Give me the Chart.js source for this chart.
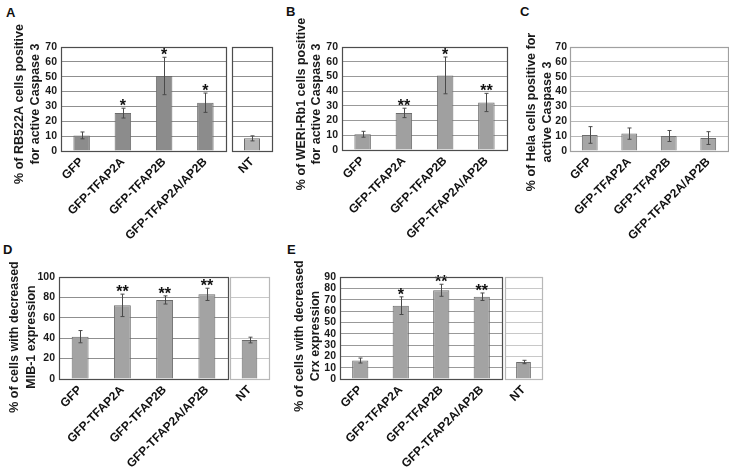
<!DOCTYPE html>
<html><head><meta charset="utf-8">
<script src="https://cdn.jsdelivr.net/npm/chart.js@4.4.1/dist/chart.umd.min.js"></script>
<style>
html,body{margin:0;padding:0;background:#fff;}
#wrap{position:relative;width:729px;height:473px;overflow:hidden;background:#fff;}
#wrap canvas{position:absolute;}
.lbl{position:absolute;font:bold 13px "Liberation Sans",Arial,sans-serif;line-height:13px;color:#111;}
</style></head><body>
<div id="wrap">
<div class="lbl" style="left:6px;top:6px">A</div>
<div class="lbl" style="left:286px;top:5px">B</div>
<div class="lbl" style="left:520px;top:5px">C</div>
<div class="lbl" style="left:3px;top:243px">D</div>
<div class="lbl" style="left:287px;top:243px">E</div>
</div>
<script>
// ---- data ----
const categories = ['GFP', 'GFP-TFAP2A', 'GFP-TFAP2B', 'GFP-TFAP2A/AP2B'];
const ntCategory = ['NT'];

const aValues = [10.5, 25.5, 50.5, 32.5];
const aErrors = [2.3, 3.3, 12.6, 6.5];
const aStars = ['', '*', '*', '*'];
const aNTValues = [8.5];
const aNTErrors = [1.7];

const bValues = [10.7, 25.2, 50.7, 32.3];
const bErrors = [2.0, 3.2, 12.5, 6.2];
const bStars = ['', '**', '*', '**'];

const cValues = [10.8, 11.7, 10.1, 8.7];
const cErrors = [5.6, 3.8, 3.7, 4.3];

const dValues = [41.5, 72.2, 77.5, 83];
const dErrors = [6, 11, 4, 6];
const dStars = ['', '**', '**', '**'];
const dNTValues = [38.2];
const dNTErrors = [2.8];

const eValues = [16.3, 64.7, 78.3, 72.6];
const eErrors = [2.2, 7.8, 5.3, 3.3];
const eStars = ['', '*', '**', '**'];
const eNTValues = [15];
const eNTErrors = [1.5];

const yTicksA = {max: 70, step: 10};
const yTicksD = {max: 100, step: 20};
const yTicksE = {max: 90, step: 10};

const titleA = ['% of RB522A cells positive', 'for active Caspase 3'];
const titleB = ['% of WERI-Rb1 cells positive', 'for active Caspase 3'];
const titleC = ['% of Hela cells positive for', 'active Caspase 3'];
const titleD = ['% of cells with decreased', 'MIB-1 expression'];
const titleE = ['% of cells with decreased', 'Crx expression'];

// ---- drawing ----
const FONT = '"Liberation Sans", Arial, sans-serif';
const wrap = document.getElementById('wrap');

const panelPlugin = {
  id: 'panel',
  afterDatasetsDraw(chart, args, o) {
    const ctx = chart.ctx, ca = chart.chartArea;
    const meta = chart.getDatasetMeta(0), ys = chart.scales.y;
    const data = chart.data.datasets[0].data;
    ctx.save();
    ctx.strokeStyle = '#4a4a4a';
    ctx.lineWidth = 1;
    meta.data.forEach((bar, i) => {
      const v = data[i], e = o.errors[i];
      const x = Math.round(bar.x) + 0.5;
      const yt = ys.getPixelForValue(v + e), yb = ys.getPixelForValue(Math.max(0, v - e));
      ctx.beginPath();
      ctx.moveTo(x, yt); ctx.lineTo(x, yb);
      ctx.moveTo(x - 2, yt); ctx.lineTo(x + 2, yt);
      ctx.moveTo(x - 2, yb); ctx.lineTo(x + 2, yb);
      ctx.stroke();
      if (o.stars && o.stars[i]) {
        ctx.fillStyle = '#111';
        ctx.font = 'bold 16px ' + FONT;
        ctx.textAlign = 'center';
        ctx.textBaseline = 'alphabetic';
        ctx.fillText(o.stars[i], bar.x, yt + 3);
      }
    });
    ctx.strokeStyle = o.frame;
    ctx.lineWidth = 1.2;
    ctx.strokeRect(Math.round(ca.left) + 0.5, Math.round(ca.top) + 0.5,
                   Math.round(ca.right - ca.left), Math.round(ca.bottom - ca.top));
    if (o.title) {
      ctx.fillStyle = '#1a1a1a';
      ctx.font = 'bold 12.5px ' + FONT;
      ctx.textAlign = 'center';
      ctx.textBaseline = 'middle';
      o.title.lines.forEach((line, i) => {
        ctx.save();
        ctx.translate(o.title.xs[i] - o.box.left, o.title.cy - o.box.top);
        ctx.rotate(-Math.PI / 2);
        ctx.fillText(line, 0, 0);
        ctx.restore();
      });
    }
    ctx.restore();
  }
};

function makeChart(p) {
  const c = document.createElement('canvas');
  c.width = p.box.width; c.height = p.box.height;
  c.style.left = p.box.left + 'px'; c.style.top = p.box.top + 'px';
  c.style.width = p.box.width + 'px'; c.style.height = p.box.height + 'px';
  wrap.appendChild(c);
  return new Chart(c, {
    type: 'bar',
    data: {
      labels: p.labels,
      datasets: [{
        data: p.values,
        backgroundColor: p.barColor,
        borderColor: '#6c6c6c',
        borderWidth: 1,
        barPercentage: 0.4,
        categoryPercentage: 1
      }]
    },
    options: {
      responsive: false,
      animation: false,
      devicePixelRatio: 1,
      layout: {padding: {left: p.padL, right: p.padR, top: p.padT, bottom: 0}},
      plugins: {
        legend: {display: false},
        tooltip: {enabled: false},
        panel: {errors: p.errors, stars: p.stars, frame: p.frame, title: p.title, box: p.box}
      },
      scales: {
        x: {
          grid: {display: false, drawTicks: false},
          border: {display: false},
          ticks: {
            autoSkip: false, maxRotation: 45, minRotation: 45, padding: 4,
            color: '#111', font: {family: FONT, size: 12, weight: 'bold'}
          },
          afterFit: s => { s.height = p.xH; }
        },
        y: {
          min: 0, max: p.yt.max,
          grid: {color: p.gridColor, drawTicks: false, lineWidth: 1},
          border: {display: false},
          ticks: {
            display: p.showTicks, stepSize: p.yt.step, padding: p.tickPad || 4, autoSkip: false,
            color: '#1a1a1a', font: {family: FONT, size: 10.5, weight: 'bold'}
          },
          afterFit: s => { s.width = p.yW; }
        }
      }
    },
    plugins: [panelPlugin]
  });
}

// Panel A
makeChart({box: {left: 0, top: 0, width: 230, height: 240}, labels: categories, values: aValues, errors: aErrors, stars: aStars,
  barColor: '#8c8c8c', frame: '#4d4d4d', gridColor: '#8f8f8f', yt: yTicksA, showTicks: true,
  yW: 61, padL: 0, padR: 4, padT: 47, xH: 89, title: {lines: titleA, xs: [20, 35.5], cy: 104}});
makeChart({box: {left: 228, top: 0, width: 50, height: 240}, labels: ntCategory, values: aNTValues, errors: aNTErrors,
  barColor: '#b3b3b3', frame: '#4d4d4d', gridColor: '#8f8f8f', yt: yTicksA, showTicks: false,
  yW: 0, padL: 4, padR: 6, padT: 47, xH: 89});
// Panel B
makeChart({box: {left: 280, top: 0, width: 232, height: 240}, labels: categories, values: bValues, errors: bErrors, stars: bStars,
  barColor: '#a0a0a0', frame: '#4d4d4d', gridColor: '#999999', yt: yTicksA, showTicks: true,
  yW: 62, padL: 0, padR: 5, padT: 47, xH: 90, title: {lines: titleB, xs: [302, 317], cy: 104}});
// Panel C
makeChart({box: {left: 512, top: 0, width: 217, height: 240}, labels: categories, values: cValues, errors: cErrors,
  barColor: '#a6a6a6', frame: '#a0a0a0', gridColor: '#b8b8b8', yt: yTicksA, showTicks: true, tickPad: 3,
  yW: 58, padL: 0, padR: 1, padT: 47, xH: 89, title: {lines: titleC, xs: [532, 548], cy: 112}});
// Panel D
makeChart({box: {left: 0, top: 232, width: 230, height: 241}, labels: categories, values: dValues, errors: dErrors, stars: dStars,
  barColor: '#a3a3a3', frame: '#4d4d4d', gridColor: '#8f8f8f', yt: yTicksD, showTicks: true,
  yW: 59, padL: 0, padR: 2, padT: 45, xH: 94, title: {lines: titleD, xs: [15, 31.5], cy: 337}});
makeChart({box: {left: 226, top: 232, width: 50, height: 241}, labels: ntCategory, values: dNTValues, errors: dNTErrors,
  barColor: '#a3a3a3', frame: '#b8b8b8', gridColor: '#c8c8c8', yt: yTicksD, showTicks: false,
  yW: 0, padL: 4, padR: 7, padT: 45, xH: 94});
// Panel E
makeChart({box: {left: 280, top: 232, width: 225, height: 241}, labels: categories, values: eValues, errors: eErrors, stars: eStars,
  barColor: '#a3a3a3', frame: '#4d4d4d', gridColor: '#999999', yt: yTicksE, showTicks: true,
  yW: 60, padL: 0, padR: 3, padT: 45, xH: 94, title: {lines: titleE, xs: [300, 316], cy: 336}});
makeChart({box: {left: 501, top: 232, width: 46, height: 241}, labels: ntCategory, values: eNTValues, errors: eNTErrors,
  barColor: '#a3a3a3', frame: '#b8b8b8', gridColor: '#c8c8c8', yt: yTicksE, showTicks: false,
  yW: 0, padL: 4, padR: 5, padT: 45, xH: 94});
</script>
</body></html>
